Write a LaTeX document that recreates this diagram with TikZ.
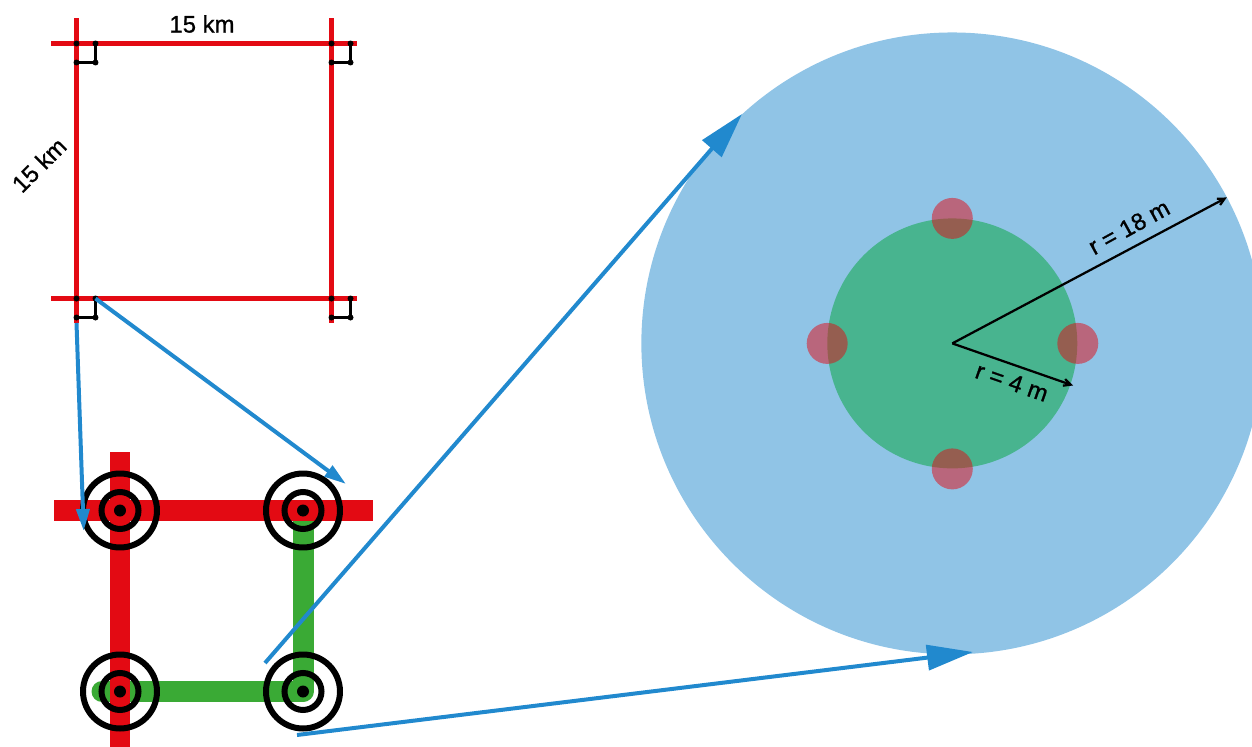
\documentclass[tikz,border=0pt]{standalone}
\usepackage{fontspec}
\setmainfont{Liberation Sans}[FakeBold=1]
\definecolor{roadred}{RGB}{227, 10, 19}
\definecolor{roadgreen}{RGB}{58, 170, 53}
\definecolor{linkblue}{RGB}{33, 137, 206}
\definecolor{coregreen}{RGB}{72, 180, 143}
\usetikzlibrary{arrows.meta}

\begin{document}
\begin{tikzpicture}[x=0.02cm, y=-0.02cm,
  every node/.style={inner sep=0pt, outer sep=0pt},
  gridline/.style={draw=roadred, line width=0.09cm},
  markline/.style={draw=black, line width=0.05cm},
  markdot/.style={circle, fill=black, minimum size=0.12cm},
  roadred/.style={draw=roadred, line width=0.42cm},
  roadgreen/.style={draw=roadgreen, line width=0.42cm, line cap=round, line join=round},
  outerring/.style={circle, draw=black, line width=0.12cm, minimum size=1.48cm},
  innerring/.style={circle, draw=black, line width=0.12cm, minimum size=0.74cm},
  hubdot/.style={circle, fill=black, minimum size=0.24cm},
  siteblue/.style={circle, fill=linkblue, fill opacity=0.5, minimum size=12.44cm},
  sitegreen/.style={circle, fill=coregreen, minimum size=5cm},
  sitepost/.style={circle, fill=roadred, fill opacity=0.5, minimum size=0.82cm},
  smallarr/.style={-{Triangle[length=0.44cm, width=0.26cm]}, draw=linkblue, fill=linkblue, line width=0.08cm},
  bigarr/.style={-{Triangle[length=0.92cm, width=0.5cm]}, draw=linkblue, fill=linkblue, line width=0.08cm},
  radius/.style={-{Straight Barb[length=0.14cm, width=0.14cm]}, draw=black, line width=0.045cm},
  lab/.style={font=\fontsize{13.6}{15}\selectfont, text=black}
]
  \clip (0,0) rectangle (1252,747);

  % ── Square grid (top-left) ──
  \coordinate (gridn) at (76.5,18);
  \coordinate (grids) at (76.5,323);
  \coordinate (gridnr) at (331.5,18);
  \coordinate (gridsr) at (331.5,323);
  \coordinate (gridw) at (51,43.5);
  \coordinate (gride) at (357,43.5);
  \coordinate (gridwb) at (51,298.5);
  \coordinate (grideb) at (357,298.5);
  \draw[gridline] (gridn) -- (grids);
  \draw[gridline] (gridnr) -- (gridsr);
  \draw[gridline] (gridw) -- (gride);
  \draw[gridline] (gridwb) -- (grideb);
  \node[lab] (toplabel) at (202,24) {15 km};
  \node[lab, rotate=45] (sidelabel) at (39,165) {15 km};

  % ── Corner marks ──
  \foreach \n/\x/\y in {nw/76.5/43.5, ne/331.5/43.5, sw/76.5/298.5, se/331.5/298.5} {
    \node[markdot] (\n a) at (\x,\y) {};
    \node[markdot] (\n b) at (\x+19,\y) {};
    \node[markdot] (\n c) at (\x+19,\y+19) {};
    \node[markdot] (\n d) at (\x,\y+19) {};
    \draw[markline] (\n b.center) -- (\n c.center) -- (\n d.center);
  }

  % ── Enlarged corner (bottom-left) ──
  \coordinate (hubred) at (120,510.5);
  \coordinate (hubgreen) at (303,510.5);
  \coordinate (hubleft) at (120,691.5);
  \coordinate (hubright) at (303,691.5);
  \coordinate (greenend) at (102,691.5);
  \coordinate (redw) at (54,510.5);
  \coordinate (rede) at (372.5,510.5);
  \coordinate (redn) at (120,452);
  \coordinate (reds) at (120,750);
  \draw[roadgreen] (hubgreen) -- (hubright) -- (greenend);
  \draw[roadred] (redw) -- (rede);
  \draw[roadred] (redn) -- (reds);
  \foreach \n in {hubred,hubgreen,hubleft,hubright} {
    \node[outerring] (\n outer) at (\n) {};
    \node[innerring] (\n inner) at (\n) {};
    \node[hubdot] (\n dot) at (\n) {};
  }

  % ── Enlarged site (right) ──
  \node[siteblue] (site) at (952.3,343.4) {};
  \node[sitegreen] (core) at (site.center) {};
  \node[sitepost] (postn) at (952.3,218.4) {};
  \node[sitepost] (poste) at (1077.8,343.4) {};
  \node[sitepost] (posts) at (952.3,468.9) {};
  \node[sitepost] (postw) at (827.2,343.4) {};
  \coordinate (coretip) at (1073,385.5);
  \draw[radius] (site.center) -- (site.28.8);
  \draw[radius] (site.center) -- (coretip);
  \node[lab, rotate=28.8] (biglabel) at (1129,227) {r = 18 m};
  \node[lab, rotate=-19.2] (smalllabel) at (1012,382) {r = 4 m};

  % ── Arrows ──
  \coordinate (tipa) at (83.7,531);
  \coordinate (tipb) at (346,484);
  \coordinate (tipc) at (742,114);
  \coordinate (tipd) at (973,652);
  \coordinate (starta) at (76.5,323);
  \coordinate (startc) at (265,663);
  \coordinate (startd) at (297,735);
  \draw[smallarr] (starta) -- (tipa);
  \draw[smallarr] (swb.center) -- (tipb);
  \draw[bigarr] (startc) -- (tipc);
  \draw[bigarr] (startd) -- (tipd);

\end{tikzpicture}
\end{document}
